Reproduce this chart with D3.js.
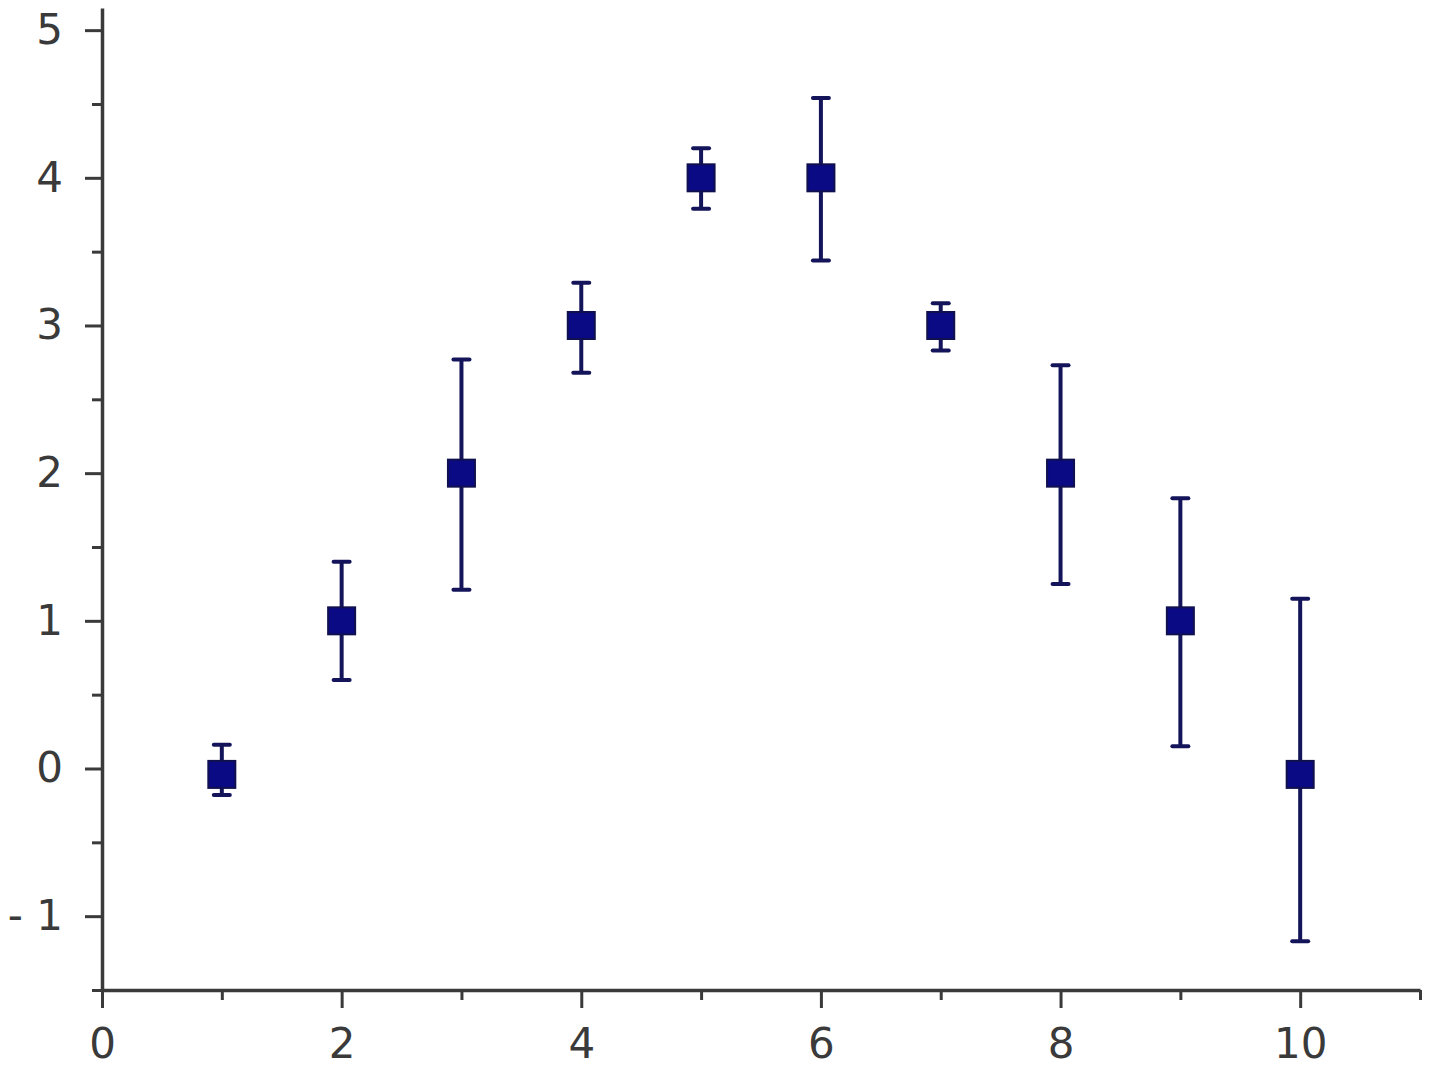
<!DOCTYPE html>
<html>
<head>
<meta charset="utf-8">
<script src="https://cdn.jsdelivr.net/npm/d3@7"></script>
<style>
  html, body { margin: 0; padding: 0; background: #fff; }
  #canvas { width: 1440px; height: 1082px; }
  .tick text { font-family: 'DejaVu Sans', Verdana, sans-serif; fill: #3a3a3a; }
</style>
</head>
<body>
<div id="canvas" class="canvas"></div>
<script>
// data
var xs = [1, 2, 3, 4, 5, 6, 7, 8, 9, 10];
var ys = [-0.04, 1, 2, 3, 4, 4, 3, 2, 1, -0.04];
var errHi = [0.16, 1.40, 2.77, 3.29, 4.20, 4.54, 3.15, 2.73, 1.83, 1.15];
var errLo = [-0.18, 0.60, 1.21, 2.68, 3.79, 3.44, 2.83, 1.25, 0.15, -1.17];
var xTicks = [0, 2, 4, 6, 8, 10];
var yTicks = [-1, 0, 1, 2, 3, 4, 5];

var m = {t: 8, r: 20, b: 92, l: 102},
    w = 1440 - m.l - m.r,
    h = 1082 - m.t - m.b;

var svg = d3.select('.canvas')
    .append('svg')
    .attr('width', 1440)
    .attr('height', 1082);

var plot = svg.append('g')
    .attr('transform', 'translate(' + m.l + ',' + m.t + ')');

var x = d3.scaleLinear().domain([0, 11]).range([0, 1318]);
var y = d3.scaleLinear().domain([-1.5, 5.15]).range([982, 0]);

var axisColor = '#3a3a3a';

// minor ticks
plot.append('g')
    .attr('transform', 'translate(0,982)')
    .call(d3.axisBottom(x).tickValues(d3.range(1, 12, 2)).tickSize(10).tickFormat(''))
    .call(function(g){ g.select('.domain').remove(); g.selectAll('line').attr('stroke', axisColor).attr('stroke-width', 3); });

plot.append('g')
    .call(d3.axisLeft(y).tickValues(d3.range(-1.5, 5.0, 1)).tickSize(10).tickFormat(''))
    .call(function(g){ g.select('.domain').remove(); g.selectAll('line').attr('stroke', axisColor).attr('stroke-width', 3); });

// major axes
var xAxis = plot.append('g')
    .attr('transform', 'translate(0,982)')
    .call(d3.axisBottom(x).tickValues(xTicks).tickSize(18).tickPadding(20).tickSizeOuter(0));

var yAxis = plot.append('g')
    .call(d3.axisLeft(y).tickValues(yTicks).tickSize(17).tickPadding(22).tickSizeOuter(0)
        .tickFormat(function(d){ return d < 0 ? '- ' + Math.abs(d) : d; }));

[xAxis, yAxis].forEach(function(g){
    g.select('.domain').attr('stroke', axisColor).attr('stroke-width', 3.5);
    g.selectAll('.tick line').attr('stroke', axisColor).attr('stroke-width', 3);
    g.selectAll('.tick text').style('font-size', '42px');
});
xAxis.selectAll('.tick text').attr('dy', '0.71em');

// error bars
var pts = xs.map(function(d, i){ return {x: d, y: ys[i], hi: errHi[i], lo: errLo[i]}; });
var barColor = '#14145a';

var eb = plot.selectAll('.err')
    .data(pts)
    .enter()
    .append('g')
    .attr('class', 'err');

eb.append('line')
    .attr('x1', function(d){ return x(d.x); })
    .attr('x2', function(d){ return x(d.x); })
    .attr('y1', function(d){ return y(d.hi); })
    .attr('y2', function(d){ return y(d.lo); })
    .attr('stroke', barColor).attr('stroke-width', 4);

eb.selectAll('.cap')
    .data(function(d){ return [{x: d.x, v: d.hi}, {x: d.x, v: d.lo}]; })
    .enter()
    .append('line')
    .attr('x1', function(d){ return x(d.x) - 8; })
    .attr('x2', function(d){ return x(d.x) + 8; })
    .attr('y1', function(d){ return y(d.v); })
    .attr('y2', function(d){ return y(d.v); })
    .attr('stroke', barColor).attr('stroke-width', 4)
    .attr('stroke-linecap', 'round');

// square markers
var s = 27;
plot.selectAll('.pt')
    .data(pts)
    .enter()
    .append('rect')
    .attr('x', function(d){ return x(d.x) - s / 2; })
    .attr('y', function(d){ return y(d.y) - s / 2; })
    .attr('width', s)
    .attr('height', s)
    .attr('fill', '#0a0a85')
    .attr('stroke', '#10104f')
    .attr('stroke-width', 2);
</script>
</body>
</html>
